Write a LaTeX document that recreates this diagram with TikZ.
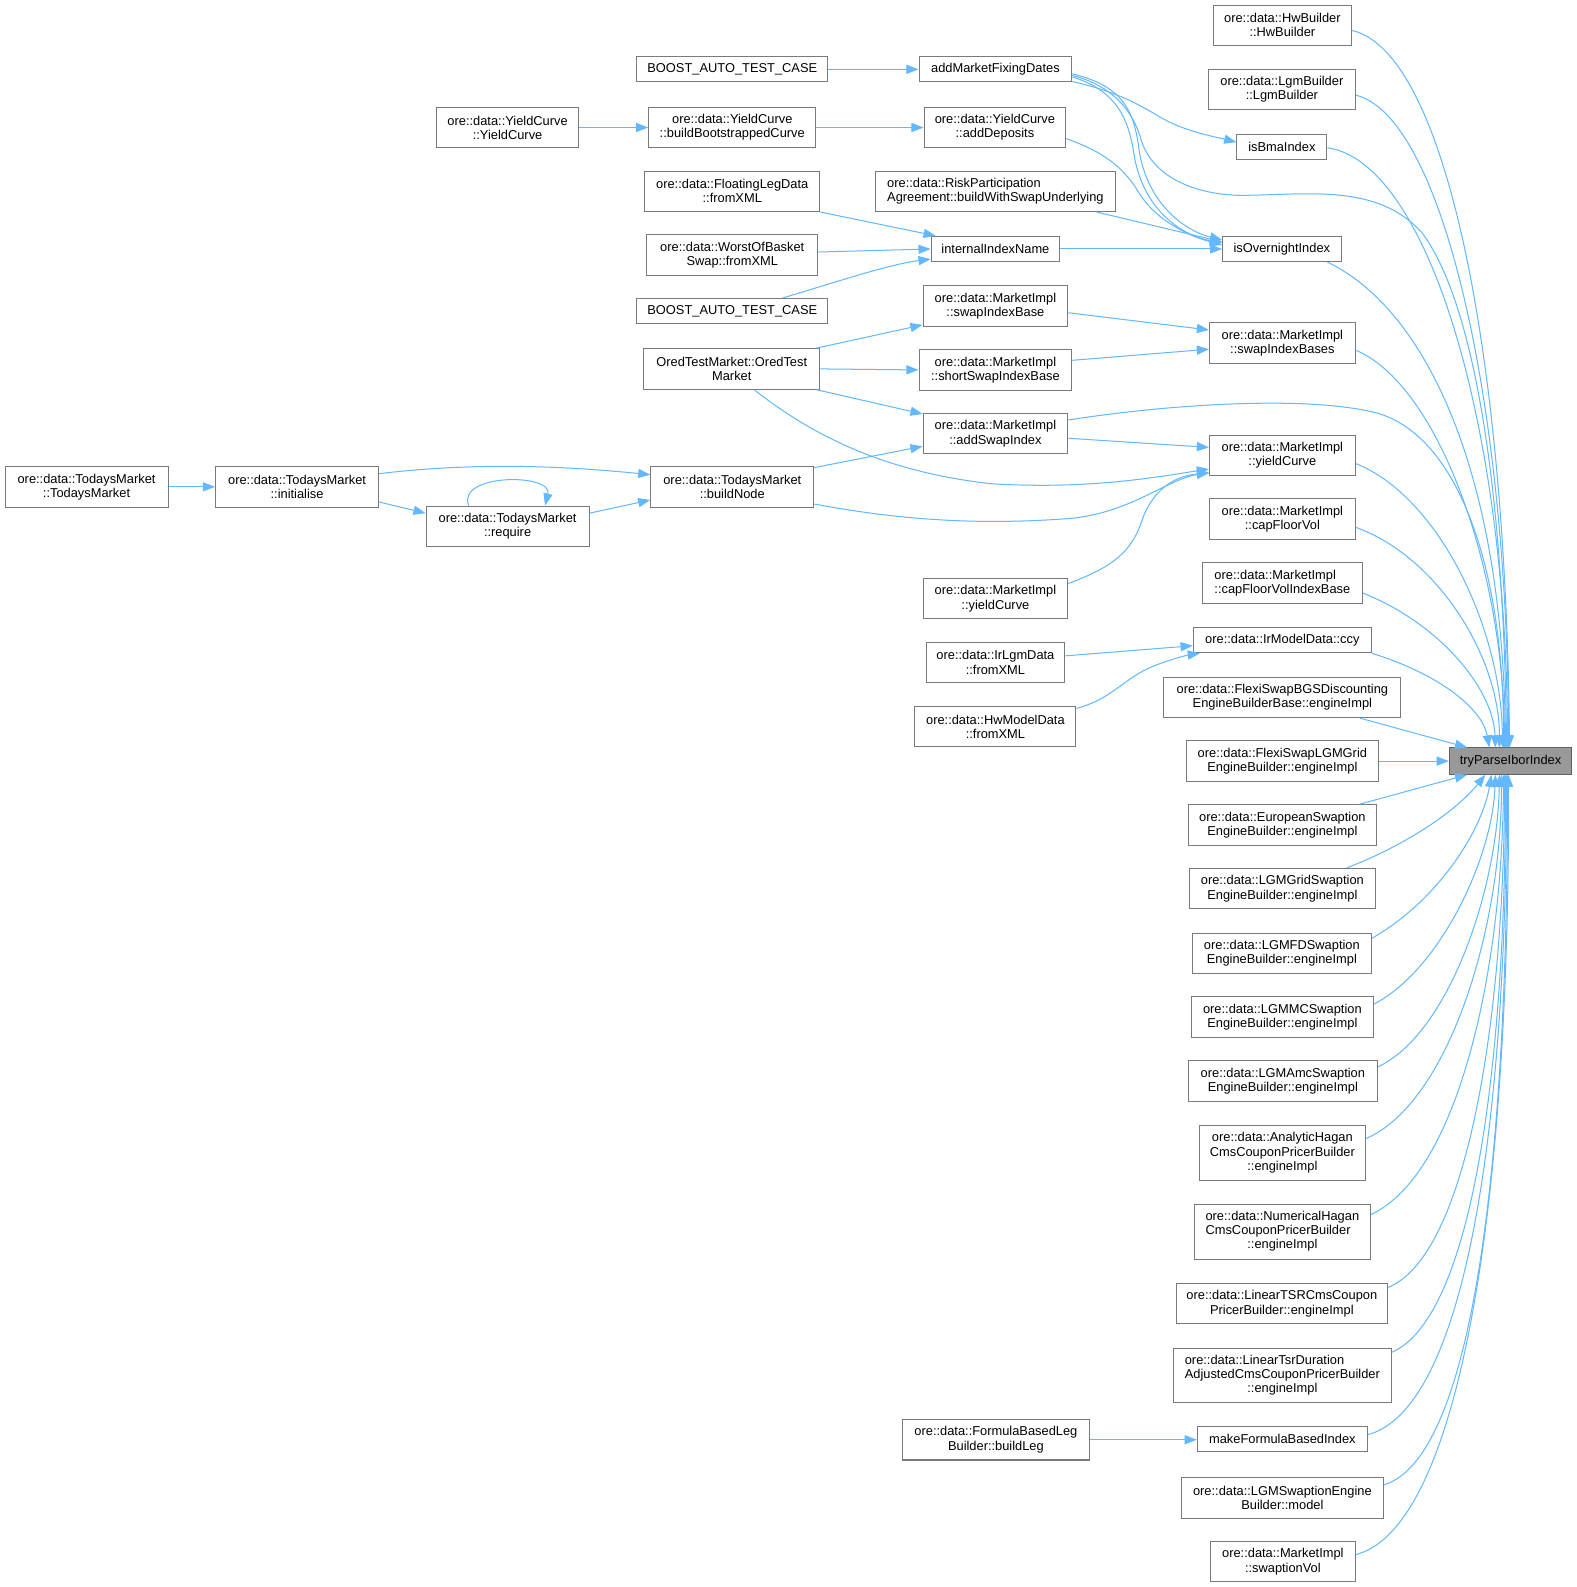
\documentclass[tikz,border=0pt]{standalone}
\usepackage{fontspec}
\setmainfont{Liberation Sans}
\usetikzlibrary{arrows.meta,calc}
\definecolor{edgec}{HTML}{63B8FF}
\definecolor{boxc}{HTML}{7A7A7A}
\definecolor{tgtfill}{HTML}{999999}
\tikzset{
  box/.style={draw=boxc, line width=1pt, fill=white, inner sep=0pt, align=center,
    font=\fontsize{12.7}{14}\selectfont},
  b1/.style={box, minimum height=25pt},
  b2/.style={box, minimum height=40pt},
  b3/.style={box, minimum height=54pt},
  conn/.style={draw=edgec, line width=1pt, -{Triangle[length=12pt,width=9pt]}}
}
\begin{document}
\begin{tikzpicture}[x=1pt,y=-1pt]
\fill[white] (0,0) rectangle (1558,1568);
\useasboundingbox (0,0) rectangle (1558,1568);

% ---------- left part
\node[b2, minimum width=161pt] (tm) at (85.5,481) {ore::data::TodaysMarket\\::TodaysMarket};
\node[b2, minimum width=161pt] (init) at (293.5,481) {ore::data::TodaysMarket\\::initialise};
\node[b2, minimum width=161pt] (req) at (501.5,520) {ore::data::TodaysMarket\\::require};
\node[b2, minimum width=161pt] (bn) at (723.5,481) {ore::data::TodaysMarket\\::buildNode};
\node[b2, minimum width=141pt] (ycyc) at (501.5,126) {ore::data::YieldCurve\\::YieldCurve};
\node[b1, minimum width=189pt] (boost1) at (723.5,68.5) {BOOST\_AUTO\_TEST\_CASE};
\node[b2, minimum width=165pt] (bbc) at (723.5,126) {ore::data::YieldCurve\\::buildBootstrappedCurve};
\node[b2, minimum width=173pt] (flx) at (723.5,189) {ore::data::FloatingLegData\\::fromXML};
\node[b2, minimum width=169pt] (wob) at (723.5,252) {ore::data::WorstOfBasket\\Swap::fromXML};
\node[b1, minimum width=189pt] (boost2) at (723.5,307.5) {BOOST\_AUTO\_TEST\_CASE};
\node[b2, minimum width=174pt] (otm) at (723,364.5) {OredTestMarket::OredTest\\Market};

% ---------- middle column
\node[b1, minimum width=151pt] (amfd) at (983.5,68.5) {addMarketFixingDates};
\node[b2, minimum width=140pt] (adep) at (983,126) {ore::data::YieldCurve\\::addDeposits};
\node[b2, minimum width=237pt, align=left] (rpa) at (983.5,189) {ore::data::RiskParticipation\\Agreement::buildWithSwapUnderlying};
\node[b1, minimum width=127pt] (iin) at (983.5,246) {internalIndexName};
\node[b2, minimum width=143pt] (sib) at (983.5,302.5) {ore::data::MarketImpl\\::swapIndexBase};
\node[b2, minimum width=151pt] (ssib) at (983.5,365.5) {ore::data::MarketImpl\\::shortSwapIndexBase};
\node[b2, minimum width=143pt] (asi) at (983.5,428.5) {ore::data::MarketImpl\\::addSwapIndex};
\node[b2, minimum width=143pt] (ycl) at (983.5,591.5) {ore::data::MarketImpl\\::yieldCurve};
\node[b2, minimum width=137pt] (irlgm) at (983.5,654.5) {ore::data::IrLgmData\\::fromXML};
\node[b2, minimum width=159pt] (hwmd) at (983.5,718) {ore::data::HwModelData\\::fromXML};
\node[b2, minimum width=184pt] (fbl) at (984,1422.5) {ore::data::FormulaBasedLeg\\Builder::buildLeg};

% ---------- right column
\node[b2, minimum width=136pt] (hw) at (1267,25) {ore::data::HwBuilder\\::HwBuilder};
\node[b2, minimum width=145pt] (lgmb) at (1266.5,88.5) {ore::data::LgmBuilder\\::LgmBuilder};
\node[b1, minimum width=89pt] (isbma) at (1266.5,145.5) {isBmaIndex};
\node[b1, minimum width=117pt] (ison) at (1266.5,246) {isOvernightIndex};
\node[b2, minimum width=144pt] (sibs) at (1267,339) {ore::data::MarketImpl\\::swapIndexBases};
\node[b2, minimum width=144pt] (ycr) at (1267,450) {ore::data::MarketImpl\\::yieldCurve};
\node[b2, minimum width=144pt] (cfv) at (1267,513) {ore::data::MarketImpl\\::capFloorVol};
\node[b2, minimum width=158pt, align=left] (cfvib) at (1267,576) {ore::data::MarketImpl\\::capFloorVolIndexBase};
\node[b1, minimum width=176pt] (ccy) at (1267,632.5) {ore::data::IrModelData::ccy};
\node[b2, minimum width=234pt] (fbgs) at (1267,689) {ore::data::FlexiSwapBGSDiscounting\\EngineBuilderBase::engineImpl};
\node[b2, minimum width=190pt] (flgm) at (1267,752) {ore::data::FlexiSwapLGMGrid\\EngineBuilder::engineImpl};
\node[b2, minimum width=186pt] (eur) at (1267,815) {ore::data::EuropeanSwaption\\EngineBuilder::engineImpl};
\node[b2, minimum width=184pt] (lgrid) at (1267,878) {ore::data::LGMGridSwaption\\EngineBuilder::engineImpl};
\node[b2, minimum width=177pt] (lfd) at (1266.5,942) {ore::data::LGMFDSwaption\\EngineBuilder::engineImpl};
\node[b2, minimum width=180pt] (lmc) at (1267,1005) {ore::data::LGMMCSwaption\\EngineBuilder::engineImpl};
\node[b2, minimum width=187pt] (lamc) at (1267.5,1068) {ore::data::LGMAmcSwaption\\EngineBuilder::engineImpl};
\node[b3, minimum width=164pt] (ahag) at (1267,1139) {ore::data::AnalyticHagan\\CmsCouponPricerBuilder\\::engineImpl};
\node[b3, minimum width=174pt] (nhag) at (1267,1217) {\begin{tabular}{@{}l@{}}ore::data::NumericalHagan\\CmsCouponPricerBuilder\\\multicolumn{1}{@{}c@{}}{::engineImpl}\end{tabular}};
\node[b2, minimum width=209pt] (ltsr) at (1266.5,1288) {ore::data::LinearTSRCmsCoupon\\PricerBuilder::engineImpl};
\node[b3, minimum width=216pt] (ltd) at (1267,1359) {\begin{tabular}{@{}l@{}}ore::data::LinearTsrDuration\\AdjustedCmsCouponPricerBuilder\\\multicolumn{1}{@{}c@{}}{::engineImpl}\end{tabular}};
\node[b1, minimum width=168pt] (mfbi) at (1267,1421.5) {makeFormulaBasedIndex};
\node[b2, minimum width=200pt] (lgmse) at (1267,1480) {ore::data::LGMSwaptionEngine\\Builder::model};
\node[b2, minimum width=143pt] (svol) at (1267.5,1543) {ore::data::MarketImpl\\::swaptionVol};

% ---------- target
\node[box, draw=boxc!80!black, fill=tgtfill, minimum width=121pt, minimum height=26pt] (tgt) at (1492.5,752) {tryParseIborIndex};

% ---------- connectors, left part
\draw[conn] (tm.east) -- (init.west);
\draw[conn] ($(init.east)+(0,-13)$) .. controls +(100,-12) and +(-80,-8) .. ($(bn.west)+(0,-12)$);
\draw[conn] ($(init.east)+(0,15)$) -- ($(req.west)+(0,-13)$);
\draw[conn] ($(req.north)+(-38.5,0)$) .. controls +(-12,-32) and +(8,-32) .. ($(req.north)+(37,0)$);
\draw[conn] ($(req.east)+(0,-13)$) -- ($(bn.west)+(0,13)$);
\draw[conn] (ycyc.east) -- (bbc.west);
\draw[conn] (boost1.east) -- (amfd.west);
\draw[conn] (bbc.east) -- (adep.west);
\draw[conn] (flx.south east) -- ($(iin.north west)+(5,0)$);
\draw[conn] ($(wob.east)+(0,-3)$) -- (iin.west);
\draw[conn] ($(boost2.north)+(49.5,0)$) .. controls +(60,-18) and +(-40,5) .. ($(iin.west)+(0,10)$);
\draw[conn] ($(otm.north east)+(-4,0)$) -- ($(sib.south west)+(0,-2)$);
\draw[conn] (otm.east) -- (ssib.west);
\draw[conn] ($(otm.south east)+(-4,0)$) -- ($(asi.north west)+(0,1)$);
\draw[conn] ($(otm.south)+(22,0)$) .. controls (790,420) and (860,465) .. (980,478)
   .. controls (1080,484) and (1150,470) .. ($(ycr.south west)+(0,-7)$);
\draw[conn] ($(bn.east)+(0,-19)$) -- ($(asi.west)+(0,12.5)$);
\draw[conn] ($(bn.east)+(0,17)$) .. controls (880,512) and (960,520) .. (1060,512)
   .. controls (1120,505) and (1150,475) .. ($(ycr.south west)+(0,-4)$);
\draw[conn] ($(ycl.east)+(0,-15)$) .. controls (1100,560) and (1118,545) .. (1128,515)
   .. controls (1138,485) and (1160,470) .. ($(ycr.south west)+(0,-3)$);
\draw[conn] ($(asi.east)+(0,4.5)$) -- ($(ycr.west)+(0,-8)$);
\draw[conn] ($(sib.east)+(0,6.5)$) -- ($(sibs.west)+(0,-13)$);
\draw[conn] ($(ssib.east)+(0,-9.5)$) -- ($(sibs.west)+(0,6)$);
\draw[conn] ($(irlgm.east)+(0,-6.5)$) -- ($(ccy.west)+(0,5.5)$);
\draw[conn] ($(hwmd.east)+(0,-18)$) .. controls (1100,690) and (1110,670) .. (1140,658)
   .. controls (1160,650) and (1175,647) .. ($(ccy.south west)+(7,0)$);
\draw[conn] (fbl.east) -- (fbl.east -| mfbi.west);

% ---------- into isBmaIndex / isOvernightIndex
\draw[conn] ($(amfd.east)+(0,4.5)$) .. controls (1110,85) and (1120,110) .. (1125,145)
   .. controls (1132,200) and (1170,228) .. ($(ison.west)+(0,-9)$);
\draw[conn] ($(amfd.east)+(0,7.5)$) .. controls (1105,90) and (1115,120) .. (1120,150)
   .. controls (1128,205) and (1165,232) .. ($(ison.west)+(0,-6)$);
\draw[conn] ($(amfd.east)+(0,12)$) .. controls (1100,90) and (1120,100) .. (1145,115)
   .. controls (1170,130) and (1200,135) .. ($(isbma.west)+(0,-5)$);
\draw[conn] ($(adep.east)+(0,11)$) .. controls (1090,150) and (1110,165) .. (1125,190)
   .. controls (1140,215) and (1170,232) .. ($(ison.west)+(0,-4)$);
\draw[conn] ($(rpa.south east)+(-19,0)$) -- ($(ison.west)+(0,-7)$);
\draw[conn] (iin.east) -- (ison.west);

% ---------- into tryParseIborIndex (top)
\draw[conn] ($(hw.east)+(0,5)$) .. controls +(93,21) and +(-4,-390) .. ($(tgt.north west)+(60,0)$);
\draw[conn] ($(lgmb.east)+(0,5.5)$) .. controls +(86,21) and +(-1,-339) .. ($(tgt.north west)+(59,0)$);
\draw[conn] ($(isbma.east)+(0,0.5)$) .. controls +(99,14) and +(-1,-319) .. ($(tgt.north west)+(58,0)$);
\draw[conn] ($(amfd.east)+(0,6)$) .. controls (1100,85) and (1120,110) .. (1128,140)
   .. controls (1140,175) and (1180,192) .. (1225,193)
   .. controls (1290,193) and (1360,180) .. (1405,230)
   .. controls (1450,290) and (1485,450) .. ($(tgt.north west)+(57,0)$);
\draw[conn] ($(ison.south east)+(-14,0)$) .. controls +(89,42) and +(-3,-289) .. ($(tgt.north west)+(56,0)$);
\draw[conn] ($(sibs.east)+(0,7)$) .. controls +(81,34) and +(-1,-179) .. ($(tgt.north west)+(55,0)$);
\draw[conn] ($(asi.east)+(0,-13.5)$) .. controls (1150,400) and (1290,390) .. (1360,408)
   .. controls (1440,430) and (1486,560) .. ($(tgt.north west)+(54,0)$);
\draw[conn] ($(ycr.east)+(0,8)$) .. controls +(81,32) and +(-1,-119) .. ($(tgt.north west)+(53,0)$);
\draw[conn] ($(cfv.east)+(0,8)$) .. controls +(81,29) and +(0,-89) .. ($(tgt.north west)+(50,0)$);
\draw[conn] ($(cfvib.east)+(0,10)$) .. controls +(74,29) and +(-2,-59) .. ($(tgt.north west)+(46,0)$);
\draw[conn] (ccy.south east) .. controls +(65,20) and +(-7,-39) .. ($(tgt.north west)+(40,0)$);
\draw[conn] ($(fbgs.south east)+(-41,0)$) -- ($(tgt.north west)+(18,0)$);
\draw[conn] (flgm.east) -- (tgt.west);
\draw[conn] ($(eur.north east)+(-17,0)$) -- ($(tgt.south west)+(18,0)$);

% ---------- into tryParseIborIndex (bottom)
\draw[conn] ($(lgrid.north east)+(-29,0)$) .. controls +(60,-23) and +(-28,35) .. ($(tgt.south west)+(36,0)$);
\draw[conn] ($(lfd.east)+(0,-15)$) .. controls +(65,-37) and +(-9,55) .. ($(tgt.south west)+(42,0)$);
\draw[conn] ($(lmc.east)+(0,-13)$) .. controls +(63,-32) and +(-3,85) .. ($(tgt.south west)+(46,0)$);
\draw[conn] ($(lamc.east)+(0,-14)$) .. controls +(69,-32) and +(-2,115) .. ($(tgt.south west)+(50,0)$);
\draw[conn] ($(ahag.east)+(0,-14)$) .. controls +(81,-35) and +(0,155) .. ($(tgt.south west)+(52,0)$);
\draw[conn] ($(nhag.east)+(0,-17)$) .. controls +(86,-40) and +(-1,195) .. ($(tgt.south west)+(54,0)$);
\draw[conn] ($(ltsr.east)+(0,-16)$) .. controls +(79,-32) and +(0,235) .. ($(tgt.south west)+(55,0)$);
\draw[conn] ($(ltd.east)+(0,-23)$) .. controls +(80,-36) and +(0,285) .. ($(tgt.south west)+(56,0)$);
\draw[conn] ($(mfbi.east)+(0,-4)$) .. controls +(99,-27) and +(0,335) .. ($(tgt.south west)+(57,0)$);
\draw[conn] ($(lgmse.east)+(0,-13)$) .. controls +(88,-27) and +(0,385) .. ($(tgt.south west)+(58,0)$);
\draw[conn] ($(svol.east)+(0,-7)$) .. controls +(101,-26) and +(1,435) .. ($(tgt.south west)+(59,0)$);
\end{tikzpicture}
\end{document}
